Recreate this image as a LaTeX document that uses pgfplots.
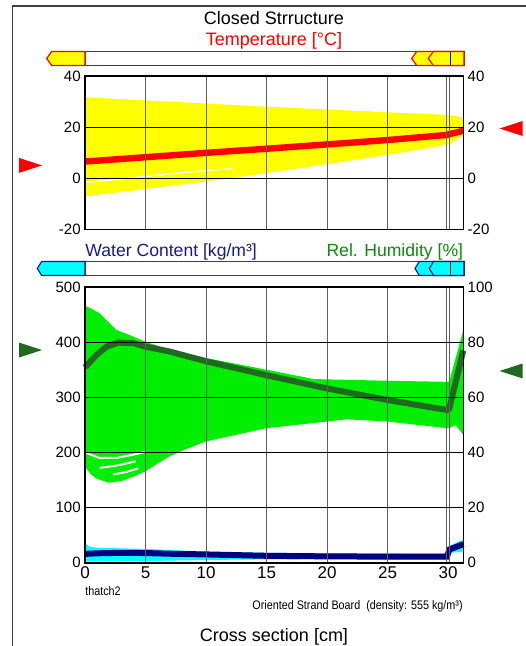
\documentclass[border=0pt]{standalone}
\usepackage{pgfplots}
\pgfplotsset{compat=1.18}
\usepackage{fontspec}
\setmainfont{Liberation Sans}

\definecolor{framegray}{HTML}{404040}
\definecolor{wcblue}{HTML}{1A1A8C}
\definecolor{rhgreen}{HTML}{0A8A0A}
\definecolor{meangreen}{HTML}{1F6A1F}
\definecolor{bandgreen}{HTML}{00EE00}
\definecolor{gridgray}{HTML}{606060}
\definecolor{wccyan}{HTML}{00FFFF}
\definecolor{tyellow}{HTML}{FFFF00}
\definecolor{tred}{HTML}{FF0000}
\definecolor{wcnavy}{HTML}{000080}

% boundary condition arrows
\pgfdeclareplotmark{trir}{%
  \pgfpathmoveto{\pgfqpoint{-\pgfplotmarksize}{0.65\pgfplotmarksize}}%
  \pgfpathlineto{\pgfqpoint{\pgfplotmarksize}{0pt}}%
  \pgfpathlineto{\pgfqpoint{-\pgfplotmarksize}{-0.65\pgfplotmarksize}}%
  \pgfpathclose\pgfusepathqfill}
\pgfdeclareplotmark{tril}{%
  \pgfpathmoveto{\pgfqpoint{\pgfplotmarksize}{0.65\pgfplotmarksize}}%
  \pgfpathlineto{\pgfqpoint{-\pgfplotmarksize}{0pt}}%
  \pgfpathlineto{\pgfqpoint{\pgfplotmarksize}{-0.65\pgfplotmarksize}}%
  \pgfpathclose\pgfusepathqfill}

\pgfplotsset{
  every axis/.append style={
    scale only axis, width=189.15pt,
    xmin=0, xmax=31.25,
    axis line style={line width=0.8pt},
    major tick length=0pt, minor tick length=0pt,
    tick style={draw=none},
    ticklabel style={font=\fontsize{7.5}{8}\selectfont, inner sep=2pt},
    /pgf/number format/assume math mode=true,
    axis on top, clip=false,
  },
}

\begin{document}
\begin{tikzpicture}
\begin{scope}[x=0.5pt, y=-0.5pt]
  \useasboundingbox (0,0) rectangle (525,646);
  \draw[framegray, line width=0.6pt] (12.7,660) -- (12.7,6) -- (540,6);
  \node[anchor=base, font=\fontsize{9}{10}\selectfont] at (274,25) {Closed Strructure};
  \node[anchor=base, tred, font=\fontsize{9}{10}\selectfont] at (274,46) {Temperature [°C]};
  % temperature bar
  \draw[framegray, fill=white, line width=0.5pt] (85,51.5) rectangle (464,65.5);
  \filldraw[fill=tyellow, draw=tred, line width=0.6pt] (46.7,58.5) -- (51.7,51.5) -- (85,51.5) -- (85,65.5) -- (51.7,65.5) -- cycle;
  \filldraw[fill=tyellow, draw=tred, line width=0.6pt] (411.7,58.5) -- (416.7,51.5) -- (464,51.5) -- (464,65.5) -- (416.7,65.5) -- cycle;
  \filldraw[fill=tyellow, draw=tred, line width=0.6pt] (428.3,58.5) -- (433.3,51.5) -- (464,51.5) -- (464,65.5) -- (433.3,65.5) -- cycle;
  \draw[black, line width=0.5pt] (450,51.5) -- (450,65.5);
  % moisture header
  \node[anchor=base west, wcblue, font=\fontsize{8.8}{10}\selectfont, inner sep=0pt] at (85,256.7) {Water Content [kg/m³]};
  \node[anchor=base east, rhgreen, font=\fontsize{8.8}{10}\selectfont, inner sep=0pt] at (463.5,256.7) {Rel. Humidity [\%]};
  \draw[framegray, fill=white, line width=0.5pt] (85,261.5) rectangle (464,275.5);
  \filldraw[fill=wccyan, draw=wcblue, line width=0.6pt] (37.3,268.5) -- (41.7,261.5) -- (85,261.5) -- (85,275.5) -- (41.7,275.5) -- cycle;
  \filldraw[fill=wccyan, draw=wcblue, line width=0.6pt] (415,268.5) -- (419.3,261.5) -- (464,261.5) -- (464,275.5) -- (419.3,275.5) -- cycle;
  \filldraw[fill=wccyan, draw=wcblue, line width=0.6pt] (429.3,268.5) -- (433.6,261.5) -- (464,261.5) -- (464,275.5) -- (433.6,275.5) -- cycle;
  \draw[black, line width=0.5pt] (450,261.5) -- (450,275.5);
  % footer texts
  \node[anchor=base west, inner sep=0pt, xscale=0.87, font=\fontsize{6.2}{7}\selectfont] at (85,595) {thatch2};
  \node[anchor=base east, inner sep=0pt, xscale=0.87, font=\fontsize{6.2}{7}\selectfont] at (463,609.3) {Oriented Strand Board\ \ (density: 555 kg/m³)};
  \node[anchor=base, font=\fontsize{9}{10}\selectfont] at (274,641.7) {Cross section [cm]};
\end{scope}

% ---------------- temperature ----------------
\begin{axis}[
  at={(42.5pt,-114.85pt)}, anchor=south west, height=76.85pt,
  ymin=-20, ymax=40, ytick={-20,0,20,40},
  xtick={0,5,...,30}, xticklabels={},
  ymajorgrids, major grid style={black, line width=0.5pt},
  minor xtick={5,10,15,20,25,29.9,30.1}, xminorgrids,
  minor grid style={gridgray, line width=0.5pt},
]
\addplot[fill=tyellow, draw=none] coordinates {
  (0,31.7) (15,28.0) (29.9,24.8) (31.25,23.8)
  (31.25,17.0) (30.1,13.3) (29.9,13.1) (25,9.2) (20,5.6)
  (15,2.1) (10,-1.2) (5,-4.1) (0,-7.0)} -- cycle;
\addplot[white, line width=0.7pt] coordinates {
  (0,-1.6) (4,0.3) (8,2.3) (12.2,3.9)};
\addplot[tred, line width=3.2pt] coordinates {
  (0,6.6) (5,8.3) (10,10.0) (15,11.6) (20,13.3) (25,15.0)
  (29.9,17.0) (30.1,17.3) (31.25,18.6)};
\addplot[only marks, mark=trir, mark size=5.75pt, tred] coordinates {(-4.5,5.1)};
\addplot[only marks, mark=tril, mark size=5.75pt, tred] coordinates {(35.2,19.5)};
\end{axis}
\begin{axis}[
  at={(42.5pt,-114.85pt)}, anchor=south west, height=76.85pt,
  ymin=-20, ymax=40, ytick={-20,0,20,40},
  axis y line*=right, axis x line=none,
]
\end{axis}

% ---------------- moisture ----------------
\begin{axis}[
  at={(42.5pt,-281.35pt)}, anchor=south west, height=137.85pt,
  ymin=0, ymax=500, ytick={0,100,...,500},
  xtick={0,5,...,30},
  xticklabel style={font=\fontsize{8.5}{9}\selectfont},
  ymajorgrids, major grid style={black, line width=0.5pt},
  minor xtick={5,10,15,20,25,29.9,30.1}, xminorgrids,
  minor grid style={gridgray, line width=0.5pt},
]
% relative humidity band (scaled x5 onto left axis)
\addplot[fill=bandgreen, draw=none] coordinates {
  (0,466) (0.5,461) (1.24,452) (2,435) (2.62,422) (4,410) (4.96,401)
  (7,386) (10.05,371) (15,350) (18.9,333) (25,330) (29.9,328)
  (30.1,329) (31.25,422)
  (31.25,232) (30.6,250) (30.1,244) (29.9,244) (25,256) (21.6,260)
  (20,256) (15,244) (10,220) (8,203) (7,193) (6,180) (5,166)
  (4,156) (3,148) (2,145) (1,152) (0.5,160) (0,174)} -- cycle;
\addplot[white, line width=1pt] coordinates {(0.1,199) (1.2,190) (2.6,190) (4,196) (5,201)};
\addplot[white, line width=1pt] coordinates {(1.2,172) (2.6,176) (4.2,184)};
\addplot[white, line width=1pt] coordinates {(2.3,160) (3.3,164) (4.4,171)};
\addplot[meangreen, line width=3pt] coordinates {
  (0,354) (0.5,366) (0.96,377) (1.8,392) (2.75,399) (4,398) (4.96,392)
  (7,383) (10.05,365) (15,340) (20,316) (25,295) (29.9,277)
  (30.1,280) (31.25,385)};
% water content band and mean
\addplot[fill=wccyan, draw=none] coordinates {
  (0,35) (0.4,29) (1,27) (3,26) (5,25) (10,20) (15,18) (20,17) (29.9,16.5)
  (29.9,6) (20,6.5) (15,6) (10,5) (5,3) (0,2)} -- cycle;
\addplot[fill=wccyan, draw=none] coordinates {
  (30.1,30) (31.25,42) (31.25,20) (30.1,18)} -- cycle;
\addplot[wcnavy, line width=3pt] coordinates {
  (0,16) (1,17) (3,18) (5,17.5) (7.5,16) (10,15) (15,12.5)
  (20,11.5) (25,11) (29.9,11) (30.1,24) (31.25,33.5)};
\addplot[only marks, mark=trir, mark size=5.75pt, meangreen] coordinates {(-4.5,385.7)};
\addplot[only marks, mark=tril, mark size=5.75pt, meangreen] coordinates {(35.2,347.7)};
\end{axis}
\begin{axis}[
  at={(42.5pt,-281.35pt)}, anchor=south west, height=137.85pt,
  ymin=0, ymax=100, ytick={0,20,...,100},
  axis y line*=right, axis x line=none,
]
\end{axis}
\end{tikzpicture}
\end{document}
